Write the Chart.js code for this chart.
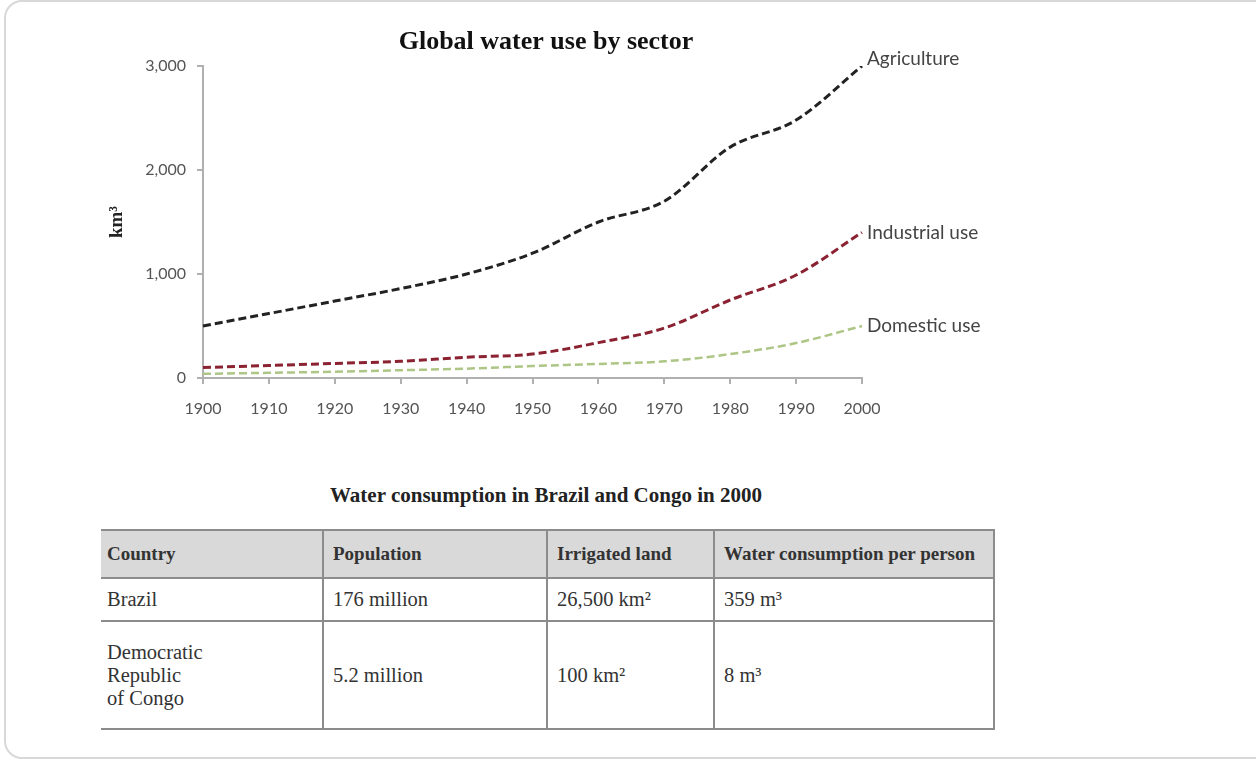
<!DOCTYPE html>
<html>
<head>
<meta charset="utf-8">
<script src="https://cdn.jsdelivr.net/npm/chart.js@4.4.0/dist/chart.umd.min.js"></script>
<style>
  html, body { margin: 0; padding: 0; background: #fff; }
  body { width: 1256px; height: 760px; position: relative; overflow: hidden; }
  .card {
    position: absolute; left: 4px; top: 0; width: 1290px; height: 759px;
    box-sizing: border-box; border: 2px solid #d8d8d8; border-radius: 18px;
  }
  #chartBox { position: absolute; left: 0; top: 0; width: 1092px; height: 440px; }
  .tbl-title {
    position: absolute; left: 0; width: 1092px; top: 483px; text-align: center;
    font: bold 21px "Liberation Serif", serif; color: #222;
  }
  table {
    position: absolute; left: 101px; top: 529px; width: 893px; table-layout: fixed;
    border-collapse: collapse; font-family: "Liberation Serif", serif; color: #333;
  }
  td, th { border: 2px solid #8c8c8c; text-align: left; vertical-align: middle; padding: 0 9px; }
  tr > :first-child { border-left: none; padding-left: 6px; }
  th { background: #d9d9d9; font-weight: bold; font-size: 19px; height: 46px; color: #333; white-space: nowrap; }
  td { font-size: 20.5px; line-height: 23px; }
</style>
</head>
<body>
<div class="card"></div>
<div id="chartBox"><canvas id="waterChart"></canvas></div>
<div class="tbl-title">Water consumption in Brazil and Congo in 2000</div>
<table id="waterTable"></table>

<script>
// Chart data
const years = ['1900', '1910', '1920', '1930', '1940', '1950', '1960', '1970', '1980', '1990', '2000'];
const agriculture = [500, 620, 740, 860, 1000, 1200, 1500, 1700, 2220, 2480, 3000];
const industrial = [100, 120, 140, 160, 200, 230, 340, 480, 750, 990, 1400];
const domestic = [40, 50, 60, 75, 90, 115, 135, 160, 230, 336, 500];
const yTicks = [0, 1000, 2000, 3000];

// Table data
const tableHeaders = ['Country', 'Population', 'Irrigated land', 'Water consumption per person'];
const countries = ['Brazil', 'Democratic<br>Republic<br>of Congo'];
const population = ['176 million', '5.2 million'];
const irrigatedLand = ['26,500 km²', '100 km²'];
const consumptionPerPerson = ['359 m³', '8 m³'];

const colWidths = [222, 224, 167, 280];
const rowHeights = [43, 108];

document.addEventListener('DOMContentLoaded', function() {
    buildTable();
    initializeChart();
});

// Build the table under the chart
function buildTable() {
    const table = document.getElementById('waterTable');
    let html = '<colgroup>' + colWidths.map(w => `<col style="width:${w}px">`).join('') + '</colgroup>';
    html += '<tr>' + tableHeaders.map(h => `<th>${h}</th>`).join('') + '</tr>';
    countries.forEach((c, r) => {
        html += `<tr style="height:${rowHeights[r]}px">`;
        html += `<td>${c}</td><td>${population[r]}</td><td>${irrigatedLand[r]}</td><td>${consumptionPerPerson[r]}</td>`;
        html += '</tr>';
    });
    table.innerHTML = html;
}

// Title + series labels at the line ends
const labelsPlugin = {
    id: 'endLabels',
    afterDraw(chart) {
        const ctx = chart.ctx;
        const x = chart.scales.x;
        const y = chart.scales.y;
        ctx.save();
        ctx.fillStyle = '#111';
        ctx.font = 'bold 26px "Liberation Serif", serif';
        ctx.textAlign = 'center';
        ctx.textBaseline = 'middle';
        ctx.fillText('Global water use by sector', chart.width / 2, 42);

        ctx.font = '19px Lato, sans-serif';
        ctx.fillStyle = '#444';
        ctx.textAlign = 'left';
        const last = years.length - 1;
        const ends = [
            { text: 'Agriculture', v: agriculture[last], dy: -7 },
            { text: 'Industrial use', v: industrial[last], dy: 0 },
            { text: 'Domestic use', v: domestic[last], dy: 0 }
        ];
        ends.forEach(e => {
            ctx.fillText(e.text, x.getPixelForValue(last) + 5, y.getPixelForValue(e.v) + e.dy);
        });
        ctx.restore();
    }
};

function initializeChart() {
    const ctx = document.getElementById('waterChart').getContext('2d');
    const lineStyle = {
        borderWidth: 3,
        borderDash: [8, 4],
        pointRadius: 0,
        fill: false,
        cubicInterpolationMode: 'monotone'
    };
    new Chart(ctx, {
        type: 'line',
        data: {
            labels: years,
            datasets: [
                { label: 'Agriculture', data: agriculture, borderColor: '#222222', ...lineStyle },
                { label: 'Industrial use', data: industrial, borderColor: '#8a2232', ...lineStyle },
                { label: 'Domestic use', data: domestic, borderColor: '#adc585', ...lineStyle, borderWidth: 2.5 }
            ]
        },
        options: {
            responsive: true,
            maintainAspectRatio: false,
            animation: false,
            layout: { padding: { left: 102, right: 230, top: 66, bottom: 12 } },
            plugins: {
                legend: { display: false },
                tooltip: { enabled: false }
            },
            scales: {
                x: {
                    offset: false,
                    grid: { drawOnChartArea: false, drawTicks: true, tickLength: 6, color: '#b0b0b0', lineWidth: 2 },
                    border: { color: '#b0b0b0', width: 2 },
                    ticks: {
                        autoSkip: false, maxRotation: 0, padding: 15,
                        color: '#555', font: { family: 'Lato', size: 16 }
                    },
                    afterFit(scale) { scale.height = 50; }
                },
                y: {
                    min: 0,
                    max: 3000,
                    afterBuildTicks(scale) { scale.ticks = yTicks.map(v => ({ value: v })); },
                    grid: { drawOnChartArea: false, drawTicks: true, tickLength: 6, color: '#b0b0b0', lineWidth: 2 },
                    border: { color: '#b0b0b0', width: 2 },
                    ticks: {
                        padding: 11,
                        color: '#555', font: { family: 'Lato', size: 16 },
                        callback: v => v.toLocaleString('en-US')
                    },
                    title: {
                        display: true, text: 'km³', color: '#222',
                        font: { family: 'Liberation Serif', size: 19, weight: 'bold' }
                    },
                    afterFit(scale) { scale.width = 101; }
                }
            }
        },
        plugins: [labelsPlugin]
    });
}
</script>
</body>
</html>
